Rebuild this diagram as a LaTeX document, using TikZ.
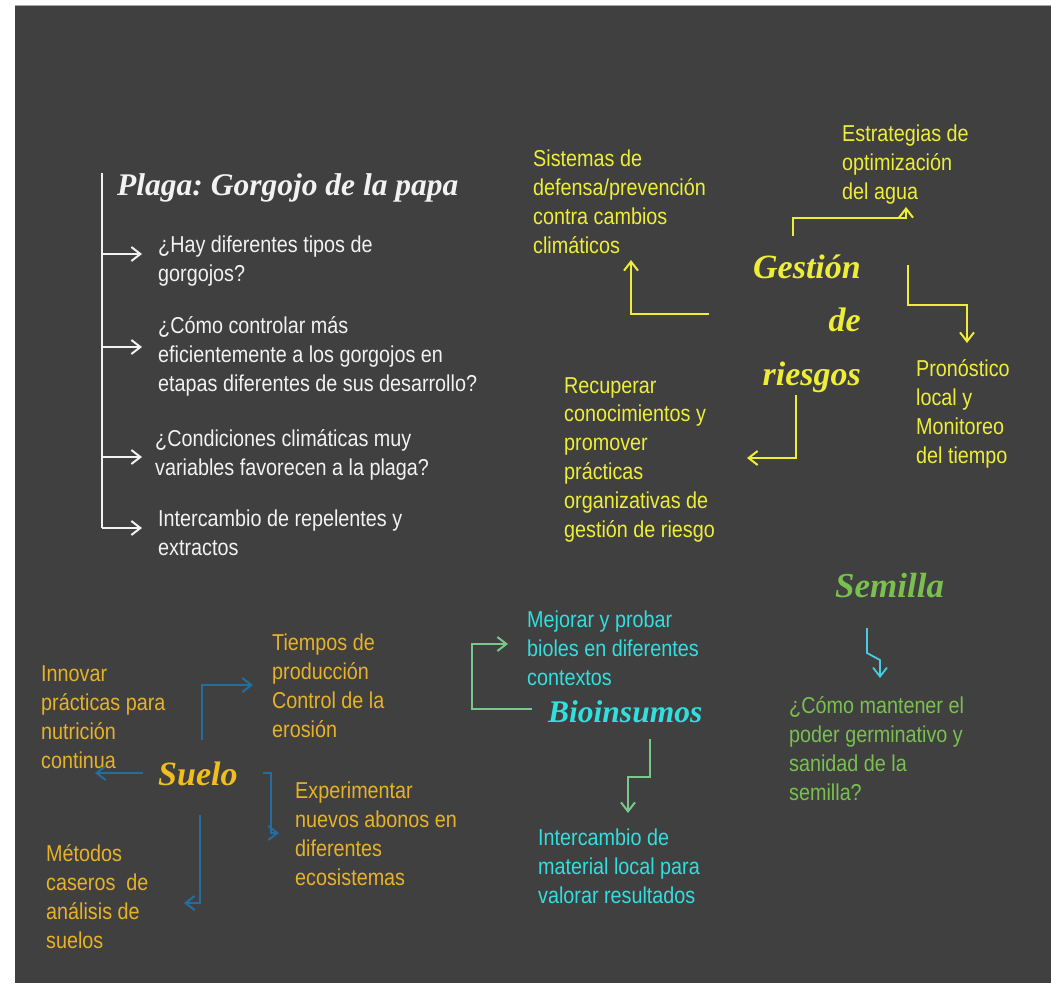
\documentclass[tikz,border=0pt]{standalone}
\usepackage{fontspec}
\setmainfont{Liberation Serif}
\newfontfamily\bodyfont[FakeStretch=0.86]{Liberation Sans}
\usetikzlibrary{arrows.meta}
\definecolor{bg}{RGB}{64,64,64}
\definecolor{wtxt}{RGB}{242,242,242}
\definecolor{ytxt}{RGB}{238,238,58}
\definecolor{otxt}{RGB}{230,178,40}
\definecolor{otitle}{RGB}{242,190,30}
\definecolor{barr}{RGB}{35,110,160}
\definecolor{ctxt}{RGB}{50,222,222}
\definecolor{garr}{RGB}{120,200,140}
\definecolor{gtxt}{RGB}{122,192,80}
\definecolor{carr}{RGB}{70,205,225}
\frenchspacing
\begin{document}
\begin{tikzpicture}[x=1pt,y=-1pt,
  body/.style={font=\bodyfont\fontsize{23}{28.8}\selectfont, align=left, anchor=base west, inner sep=0pt},
  ttl/.style={font=\fontsize{34}{53.5}\selectfont\bfseries\itshape, anchor=base west, inner sep=0pt},
  conn/.style={line width=2pt, -{Straight Barb[length=9pt,width=14pt]}},
  plain/.style={line width=2pt}
]
\useasboundingbox (0,0) rectangle (1051,983);
\fill[white] (0,0) rectangle (1051,983);
\fill[bg] (15,5) rectangle (1051,983);
\draw[gray!70, line width=1pt] (15,5.5) -- (1051,5.5);

% ---------- Plaga ----------
\node[ttl, text=wtxt, font=\fontsize{31.5}{36}\selectfont\bfseries\itshape] (plaga) at (117,195) {Plaga: Gorgojo de la papa};
\node[body, text=wtxt] (w1) at (158,281) {¿Hay diferentes tipos de\\gorgojos?};
\node[body, text=wtxt] (w2) at (158,391) {¿Cómo controlar más\\eficientemente a los gorgojos en\\etapas diferentes de sus desarrollo?};
\node[body, text=wtxt] (w3) at (155,475) {¿Condiciones climáticas muy\\variables favorecen a la plaga?};
\node[body, text=wtxt] (w4) at (158,555) {Intercambio de repelentes y\\extractos};
\coordinate (wtop) at (102,173);
\coordinate (wb1) at (102,254);
\coordinate (wb2) at (102,347);
\coordinate (wb3) at (102,457);
\coordinate (wb4) at (102,528);
\draw[plain, wtxt] (wtop) -- (wb4);
\draw[conn, wtxt] (wb1) -- ++(40,0);
\draw[conn, wtxt] (wb2) -- ++(40,0);
\draw[conn, wtxt] (wb3) -- ++(40,0);
\draw[conn, wtxt] (wb4) -- ++(40,0);

% ---------- Gestion de riesgos ----------
\node[ttl, text=ytxt, align=right, anchor=base east] (ges) at (861,385) {Gestión\\de\\riesgos};
\node[body, text=ytxt] (sis) at (533,253) {Sistemas de\\defensa/prevención\\contra cambios\\climáticos};
\node[body, text=ytxt] (est) at (842,199) {Estrategias de\\optimización\\del agua};
\node[body, text=ytxt] (pro) at (916,463) {Pronóstico\\local y\\Monitoreo\\del tiempo};
\node[body, text=ytxt] (rec) at (564,537) {Recuperar\\conocimientos y\\promover\\prácticas\\organizativas de\\gestión de riesgo};
\coordinate (gs) at (709,314);
\coordinate (gsT) at (631,260);
\draw[conn, ytxt] (gs) -| (gsT);
\coordinate (ge) at (793,236);
\coordinate (geC) at (906,218);
\coordinate (geT) at (906,207);
\draw[conn, ytxt] (ge) |- (geC) -- (geT);
\coordinate (gp) at (908,265);
\coordinate (gpC) at (967,305);
\coordinate (gpT) at (967,343);
\draw[conn, ytxt] (gp) |- (gpC) -- (gpT);
\coordinate (gr) at (796,395);
\coordinate (grT) at (747,458);
\draw[conn, ytxt] (gr) |- (grT);

% ---------- Suelo ----------
\node[ttl, text=otitle] (suelo) at (158,785) {Suelo};
\node[body, text=otxt] (inn) at (41,768) {Innovar\\prácticas para\\nutrición\\continua};
\node[body, text=otxt] (tie) at (272,737) {Tiempos de\\producción\\Control de la\\erosión};
\node[body, text=otxt] (exp) at (295,885) {Experimentar\\nuevos abonos en\\diferentes\\ecosistemas};
\node[body, text=otxt] (met) at (46,948) {Métodos\\caseros\ \ de\\análisis de\\suelos};
\coordinate (st) at (202,740);
\coordinate (stT) at (253,685);
\draw[conn, barr] (st) |- (stT);
\coordinate (si) at (143,773);
\coordinate (siT) at (95,773);
\draw[conn, barr] (si) -- (siT);
\coordinate (se) at (263,773);
\coordinate (seC) at (271,833);
\coordinate (seT) at (279,833);
\draw[conn, barr] (se) -| (seC) -- (seT);
\coordinate (sm) at (200,815);
\coordinate (smT) at (184,903);
\draw[conn, barr] (sm) |- (smT);

% ---------- Bioinsumos ----------
\node[ttl, text=ctxt, font=\fontsize{31.5}{36}\selectfont\bfseries\itshape] (bio) at (548,722) {Bioinsumos};
\node[body, text=ctxt] (mej) at (527,685) {Mejorar y probar\\bioles en diferentes\\contextos};
\node[body, text=ctxt] (int) at (538,903) {Intercambio de\\material local para\\valorar resultados};
\coordinate (bm) at (532,709);
\coordinate (bmC) at (472,644);
\coordinate (bmT) at (508,644);
\draw[conn, garr] (bm) -| (bmC) -- (bmT);
\coordinate (bi) at (650,739);
\coordinate (biC) at (628,777);
\coordinate (biT) at (628,813);
\draw[conn, garr] (bi) |- (biC) -- (biT);

% ---------- Semilla ----------
\node[ttl, text=gtxt, font=\fontsize{35}{40}\selectfont\bfseries\itshape] (sem) at (835,597) {Semilla};
\node[body, text=gtxt] (q) at (789,800) {¿Cómo mantener el\\poder germinativo y\\sanidad de la\\semilla?};
\coordinate (sa) at (867,628);
\coordinate (sb) at (867,653);
\coordinate (sc) at (880,660);
\coordinate (sd) at (880,678);
\draw[conn, carr, line width=1.8pt] (sa) -- (sb) -- (sc) -- (sd);
\end{tikzpicture}
\end{document}
